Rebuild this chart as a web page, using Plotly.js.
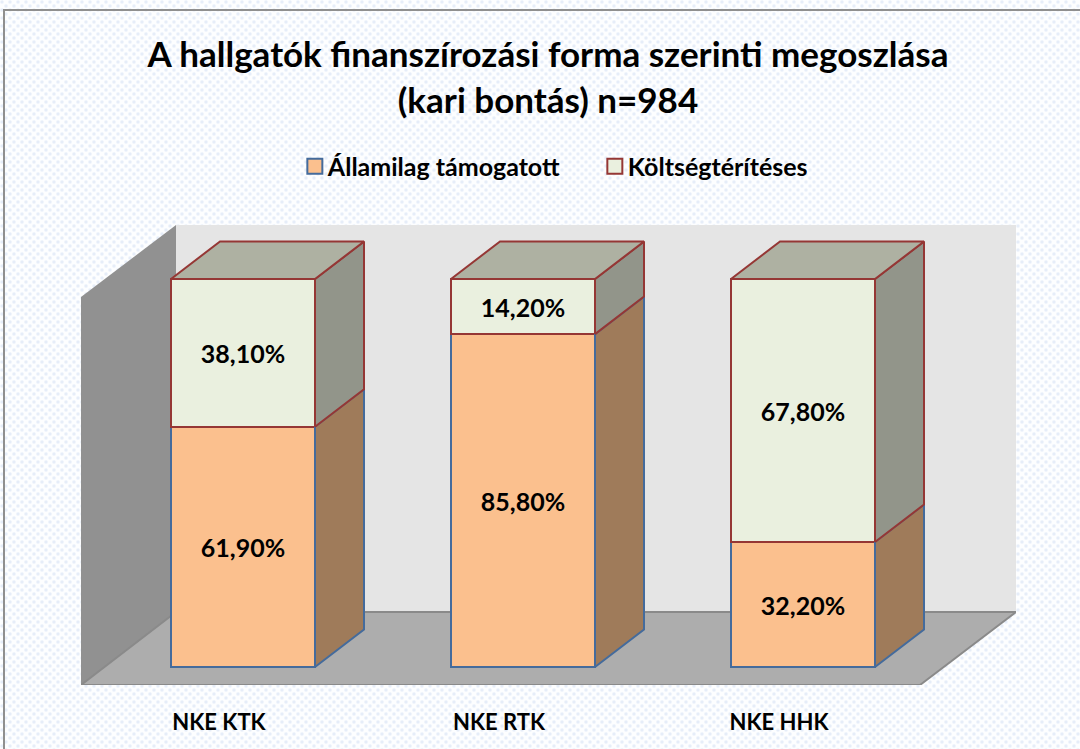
<!DOCTYPE html>
<html><head><meta charset="utf-8">
<script src="https://cdn.plot.ly/plotly-3.0.0.min.js"></script>
<style>
html,body{margin:0;padding:0;background:#fff;}
#wrap{position:absolute;left:0;top:0;width:1080px;height:749px;overflow:hidden;
 background-color:#fdfeff;
 background-image:radial-gradient(circle at 2px 2px,#e6edf9 0.8px,transparent 2.4px),radial-gradient(circle at 2px 2px,#e6edf9 0.8px,transparent 2.4px);
 background-size:8px 8px;background-position:0 0,4px 4px;}
#frameL{position:absolute;left:3px;top:9px;width:2px;height:740px;background:#8f8f8f;pointer-events:none;}
#frameT{position:absolute;left:3px;top:9px;width:1077px;height:2px;background:#8f8f8f;pointer-events:none;}
</style></head><body>
<div id="wrap"><div id="chart"></div><div id="frameL"></div><div id="frameT"></div></div>
<script>
const categories=['NKE KTK','NKE RTK','NKE HHK'];
const seriesNames=['Államilag támogatott','Költségtérítéses'];
const allami=[61.9,85.8,32.2];
const koltseg=[38.1,14.2,67.8];
const pos=[0,1,2];

const barW=144/280, barOff=-48/280, depthX=49/280, depthY=37.5/3.88;
const left=pos.map(p=>p+barOff), right=pos.map(p=>p+barOff+barW);

function sideFaces(lo,hi){
  const xs=[],ys=[];
  pos.forEach(i=>{const r=right[i];
    xs.push(r,r+depthX,r+depthX,r,r,null);
    ys.push(lo[i],lo[i]+depthY,hi[i]+depthY,hi[i],lo[i],null);});
  return {x:xs,y:ys};
}
function topFaces(hi){
  const xs=[],ys=[];
  pos.forEach(i=>{const l=left[i],r=right[i];
    xs.push(l,l+depthX,r+depthX,r,l,null);
    ys.push(hi[i],hi[i]+depthY,hi[i]+depthY,hi[i],hi[i],null);});
  return {x:xs,y:ys};
}
const zero=pos.map(()=>0);
const totals=pos.map(i=>allami[i]+koltseg[i]);
const BLUE='#446b9c', RED='#953735';
const FONT='Lato, Carlito, sans-serif';
const labelFont={family:FONT,size:25,color:'#000',weight:700};
function bar(name,vals,fill,line){
  return {type:'bar',name:name,x:pos,y:vals,width:barW,offset:barOff,
    marker:{color:fill,line:{color:line,width:2}},
    text:vals.map(v=>v.toFixed(2).replace('.',',')+'%'),textposition:'inside',insidetextanchor:'middle',
    textangle:0,textfont:labelFont,constraintext:'none',hoverinfo:'x+y+name'};
}
function face(pts,fill,line){
  return {type:'scatter',mode:'lines',x:pts.x,y:pts.y,fill:'toself',fillcolor:fill,
    line:{color:line,width:2},showlegend:false,hoverinfo:'skip',connectgaps:false};
}
const traces=[
  bar(seriesNames[0],allami,'#FBC08E',BLUE),
  bar(seriesNames[1],koltseg,'#EAF0DF',RED),
  face(sideFaces(zero,allami),'#9F7B5A',BLUE),
  face(sideFaces(allami,totals),'#92958A',RED),
  face(topFaces(totals),'#AEB1A2',RED)
];
const X0=-138/280,X1=797/280,Y0=-18/3.88,Y1=442/3.88;
const fbX=-43/280,fbY=55/3.88,frX=701/280;
const shapes=[
 {type:'path',xref:'x',yref:'y',layer:'below',path:`M${fbX},${fbY}L${fbX},${Y1}L${X1},${Y1}L${X1},${fbY}Z`,fillcolor:'#E5E5E5',line:{width:0}},
 {type:'path',xref:'x',yref:'y',layer:'below',path:`M${X0},${Y0}L${X0},${370/3.88}L${fbX},${Y1}L${fbX},${fbY}Z`,fillcolor:'#919191',line:{width:0}},
 {type:'path',xref:'x',yref:'y',layer:'below',path:`M${X0},${Y0}L${frX},${Y0}L${X1},${fbY}L${fbX},${fbY}Z`,fillcolor:'#ADADAD',line:{color:'#8a8a8a',width:2}}
];
const layout={
  width:1080,height:749,margin:{l:81,r:64,t:225,b:64,pad:0},autosize:false,
  paper_bgcolor:'rgba(0,0,0,0)',plot_bgcolor:'rgba(0,0,0,0)',
  separators:', ',
  barmode:'stack',
  title:{text:'A hallgatók finanszírozási forma szerinti megoszlása<br>(kari bontás) n=984',
    font:{family:FONT,size:35,color:'#000',weight:700},
    x:548/1080,xanchor:'center',y:0.91,yanchor:'middle'},
  xaxis:{type:'linear',range:[X0,X1],tickmode:'array',tickvals:pos,ticktext:categories,
    showgrid:false,zeroline:false,showline:false,ticks:'',ticklabelstandoff:22,
    tickfont:{family:FONT,size:22,color:'#000',weight:700}},
  yaxis:{range:[Y0,Y1],visible:false,showgrid:false,zeroline:false},
  legend:{orientation:'h',traceorder:'normal',x:247/1080,xanchor:'left',xref:'paper',y:1.127,yanchor:'middle',
    entrywidth:255,entrywidthmode:'pixels',itemwidth:30,
    font:{family:FONT,size:25,color:'#000',weight:700},bgcolor:'rgba(0,0,0,0)'},
  shapes:shapes,showlegend:true
};
Plotly.newPlot('chart',traces,layout,{displayModeBar:false,responsive:false}).then(gd=>{
  gd.querySelectorAll('.legend .legendtext').forEach(t=>t.setAttribute('x','33'));
  gd.querySelectorAll('.legend .legendundefined, .legend .legendbar path').forEach(p=>p.setAttribute('d','M7.5,7.5H-7.5V-7.5H7.5Z'));
});
</script></body></html>
